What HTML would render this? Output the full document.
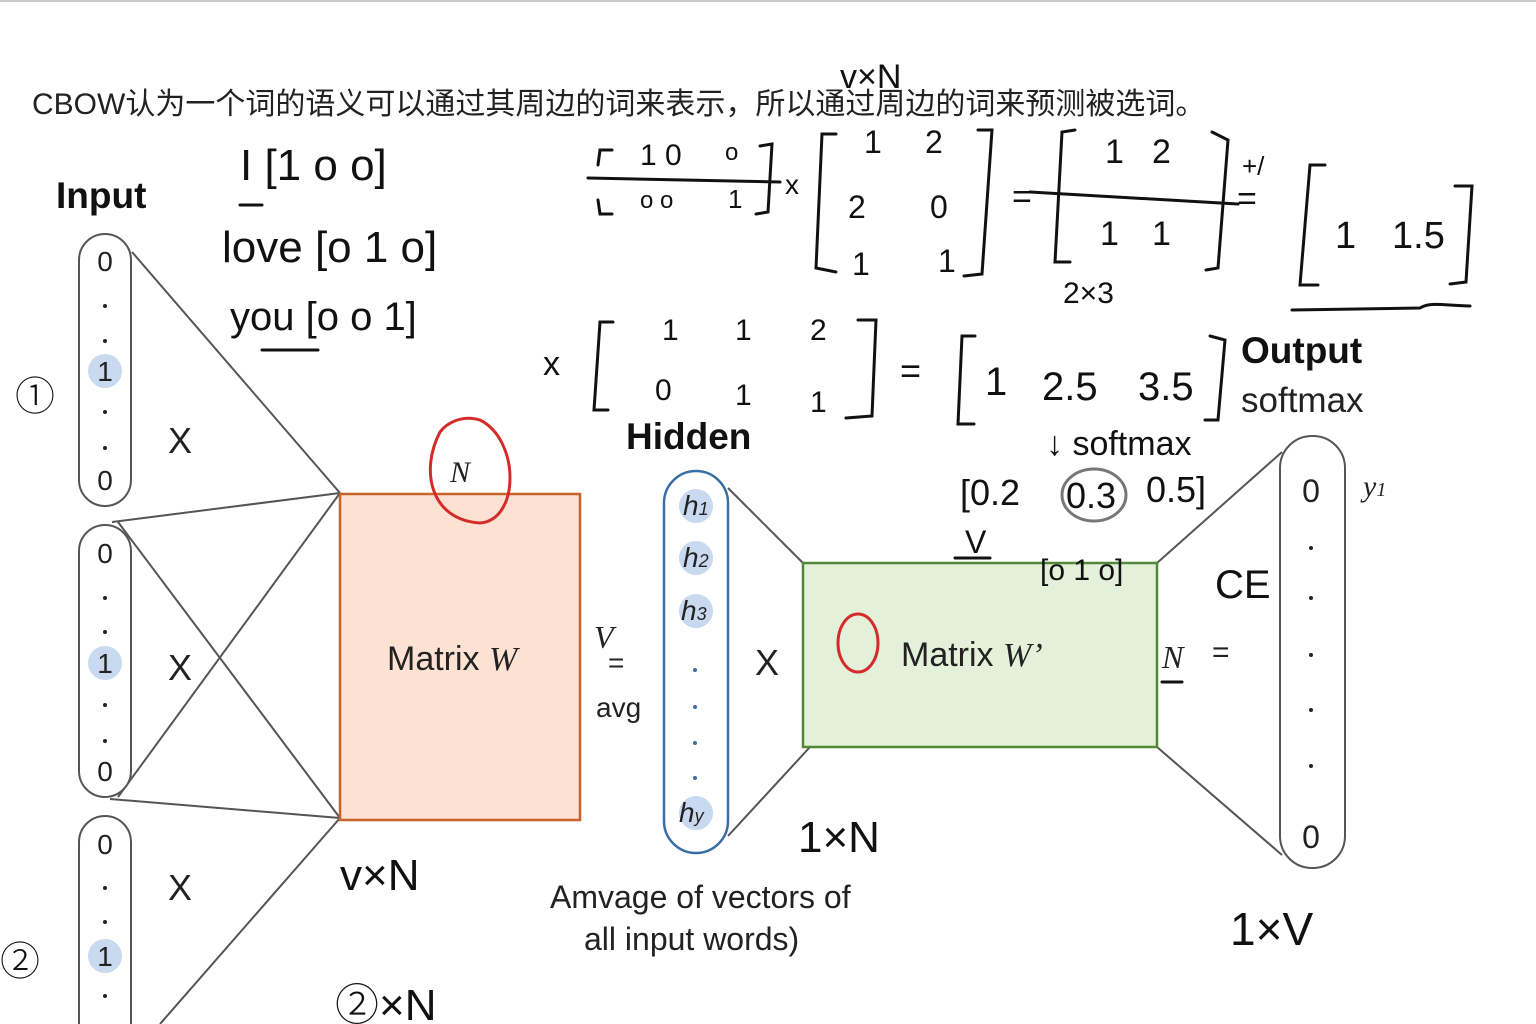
<!DOCTYPE html>
<html><head><meta charset="utf-8"><style>
html,body{margin:0;padding:0;background:#fff;width:1536px;height:1024px;overflow:hidden}
svg{display:block}
svg text{font-family:"Liberation Sans","Noto Sans CJK SC",sans-serif}
.it{font-family:"Liberation Serif",serif;font-style:italic}
</style></head><body>
<svg width="1536" height="1024" viewBox="0 0 1536 1024" xmlns="http://www.w3.org/2000/svg">
<line x1="0" y1="1" x2="1536" y2="1" stroke="#ccc" stroke-width="2"/>
<text x="32" y="114" font-size="30" fill="#222">CBOW认为一个词的语义可以通过其周边的词来表示，所以通过周边的词来预测被选词。</text>
<text x="56" y="208" font-size="37" font-weight="bold" fill="#111">Input</text>

<g stroke="#555" stroke-width="2" fill="none">
<line x1="132" y1="252" x2="340" y2="493"/>
<line x1="112" y1="522" x2="340" y2="493"/>
<line x1="118" y1="522" x2="340" y2="818"/>
<line x1="118" y1="797" x2="340" y2="493"/>
<line x1="110" y1="799" x2="340" y2="818"/>
<line x1="160" y1="1024" x2="340" y2="818"/>
<line x1="728" y1="488" x2="803" y2="563"/>
<line x1="728" y1="836" x2="810" y2="747"/>
<line x1="1157" y1="563" x2="1282" y2="452"/>
<line x1="1157" y1="747" x2="1282" y2="855"/>
</g>

<g fill="#fff" stroke="#555" stroke-width="2">
<rect x="79" y="234" width="52" height="272" rx="26"/>
<rect x="79" y="525" width="52" height="272" rx="26"/>
<path d="M79 1024 L79 842 A26 26 0 0 1 131 842 L131 1024"/>
</g>
<g fill="#c9d9f0"><circle cx="105" cy="371" r="17"/><circle cx="105" cy="663" r="17"/><circle cx="105" cy="956" r="17"/></g>
<g font-size="28" text-anchor="middle" fill="#222">
<text x="105" y="271">0</text><text x="105" y="381">1</text><text x="105" y="490">0</text>
<text x="105" y="563">0</text><text x="105" y="673">1</text><text x="105" y="781">0</text>
<text x="105" y="854">0</text><text x="105" y="966">1</text>
</g>
<g fill="#222">
<circle cx="105" cy="306" r="2"/><circle cx="105" cy="341" r="2"/><circle cx="105" cy="412" r="2"/><circle cx="105" cy="448" r="2"/>
<circle cx="105" cy="598" r="2"/><circle cx="105" cy="632" r="2"/><circle cx="105" cy="705" r="2"/><circle cx="105" cy="741" r="2"/>
<circle cx="105" cy="888" r="2"/><circle cx="105" cy="922" r="2"/><circle cx="105" cy="996" r="2"/>
</g>
<g font-size="36" fill="#222" text-anchor="middle"><text x="180" y="453">X</text><text x="180" y="680">X</text><text x="180" y="900">X</text></g>

<rect x="340" y="494" width="240" height="326" fill="#fde1d2" stroke="#c8632b" stroke-width="2.5"/>
<text x="387" y="670" font-size="34" fill="#222">Matrix <tspan class="it">W</tspan></text>
<text x="450" y="482" font-size="30" class="it" fill="#222">N</text>
<path d="M440 432 C420 470 430 520 480 523 C520 520 520 440 480 420 C460 414 445 425 440 432" fill="none" stroke="#d42b2b" stroke-width="3"/>

<text x="594" y="648" font-size="32" class="it" fill="#222">V</text>
<text x="608" y="672" font-size="28" fill="#222">=</text>
<text x="596" y="717" font-size="28" fill="#222">avg</text>

<text x="626" y="449" font-size="37" font-weight="bold" fill="#111">Hidden</text>
<rect x="664" y="471" width="64" height="382" rx="32" fill="#fff" stroke="#3a6ea5" stroke-width="2.5"/>
<g fill="#c9d9f0"><circle cx="696" cy="506" r="17"/><circle cx="696" cy="558" r="17"/><circle cx="696" cy="611" r="17"/><circle cx="696" cy="813" r="17"/></g>
<g font-size="28" class="it" fill="#222">
<text x="683" y="515">h<tspan font-size="18">1</tspan></text>
<text x="683" y="567">h<tspan font-size="18">2</tspan></text>
<text x="681" y="620">h<tspan font-size="18">3</tspan></text>
<text x="679" y="822">h<tspan font-size="18">y</tspan></text>
</g>
<g fill="#3a6ea5"><circle cx="695" cy="670" r="2"/><circle cx="695" cy="707" r="2"/><circle cx="695" cy="743" r="2"/><circle cx="695" cy="778" r="2"/></g>
<text x="767" y="675" font-size="36" fill="#222" text-anchor="middle">X</text>
<text x="550" y="908" font-size="32" fill="#222">Amvage of vectors of</text>
<text x="584" y="950" font-size="32" fill="#222">all input words)</text>

<rect x="803" y="563" width="354" height="184" fill="#e3f0da" stroke="#55873a" stroke-width="2.5"/>
<text x="901" y="666" font-size="34" fill="#222">Matrix <tspan class="it">W’</tspan></text>
<ellipse cx="858" cy="643" rx="20" ry="29" fill="none" stroke="#d42b2b" stroke-width="3"/>
<text x="1162" y="668" font-size="32" class="it" fill="#222">N</text>
<text x="1212" y="662" font-size="30" fill="#222">=</text>

<text x="1241" y="363" font-size="37" font-weight="bold" fill="#111">Output</text>
<text x="1241" y="412" font-size="35" fill="#222">softmax</text>
<rect x="1280" y="436" width="65" height="432" rx="32" fill="#fff" stroke="#555" stroke-width="2"/>
<text x="1311" y="502" font-size="32" fill="#222" text-anchor="middle">0</text>
<text x="1311" y="848" font-size="32" fill="#222" text-anchor="middle">0</text>
<g fill="#222"><circle cx="1311" cy="548" r="2"/><circle cx="1311" cy="598" r="2"/><circle cx="1311" cy="655" r="2"/><circle cx="1311" cy="710" r="2"/><circle cx="1311" cy="766" r="2"/></g>
<text x="1363" y="496" font-size="30" class="it" fill="#222">y<tspan font-size="20">1</tspan></text>

<g font-family="'DejaVu Sans',sans-serif" fill="#111" font-weight="300">
<text x="240" y="180" font-size="44">I [1 o o]</text>
<text x="222" y="262" font-size="44">love [o 1 o]</text>
<text x="230" y="330" font-size="40">you [o o 1]</text>
<text x="840" y="88" font-size="34">v×N</text>
<text x="640" y="165" font-size="30">1 0</text><text x="725" y="160" font-size="24">o</text>
<text x="640" y="208" font-size="24">o o</text><text x="728" y="208" font-size="26">1</text>
<text x="785" y="194" font-size="28">x</text>
<text x="864" y="153" font-size="32">1</text><text x="925" y="153" font-size="32">2</text>
<text x="848" y="218" font-size="32">2</text><text x="930" y="218" font-size="32">0</text>
<text x="852" y="275" font-size="32">1</text><text x="938" y="272" font-size="32">1</text>
<text x="1012" y="208" font-size="34">=</text>
<text x="1105" y="163" font-size="34">1</text><text x="1152" y="163" font-size="34">2</text>
<text x="1100" y="245" font-size="34">1</text><text x="1152" y="245" font-size="34">1</text>
<text x="1063" y="303" font-size="30">2×3</text>
<text x="1237" y="210" font-size="34">=</text>
<text x="1242" y="175" font-size="26">+/</text>
<text x="1335" y="248" font-size="38">1</text><text x="1392" y="248" font-size="38">1.5</text>
<text x="543" y="375" font-size="34">x</text>
<text x="662" y="340" font-size="30">1</text><text x="735" y="340" font-size="30">1</text><text x="810" y="340" font-size="30">2</text>
<text x="655" y="400" font-size="30">0</text><text x="735" y="405" font-size="30">1</text><text x="810" y="412" font-size="30">1</text>
<text x="900" y="383" font-size="36">=</text>
<text x="985" y="395" font-size="40">1</text><text x="1042" y="400" font-size="40">2.5</text><text x="1138" y="400" font-size="40">3.5</text>
<text x="1046" y="455" font-size="34">↓ softmax</text>
<text x="960" y="505" font-size="36">[0.2</text><text x="1066" y="508" font-size="36">0.3</text><text x="1146" y="502" font-size="36">0.5]</text>
<text x="965" y="553" font-size="32">V</text>
<text x="1040" y="580" font-size="30">[o 1 o]</text>
<text x="1215" y="598" font-size="40">CE</text>
<text x="798" y="852" font-size="44">1×N</text>
<text x="340" y="890" font-size="44">v×N</text>
<text x="1230" y="945" font-size="46">1×V</text>
<text x="335" y="1020" font-size="44">②×N</text>
<text x="15" y="410" font-size="40">①</text>
<text x="0" y="975" font-size="40">②</text>
</g>
<g fill="none" stroke="#111" stroke-width="3" stroke-linecap="round">
<path d="M612 150 L600 150 L598 165 M598 200 L600 214 L612 214"/>
<path d="M760 146 L772 144 L768 212 L756 214"/>
<line x1="588" y1="178" x2="780" y2="182"/>
<path d="M836 134 L822 134 L816 268 L836 272 M978 130 L992 130 L982 274 L964 276"/>
<path d="M1075 130 L1062 132 L1055 262 L1070 262 M1212 132 L1228 140 L1218 268 L1206 270"/>
<line x1="1030" y1="192" x2="1238" y2="204"/>
<path d="M1325 165 L1310 165 L1300 285 L1318 285 M1455 186 L1472 186 L1466 282 L1450 284"/>
<path d="M1292 310 L1420 308 C1430 302 1440 305 1470 306"/>
<path d="M613 322 L600 322 L594 410 L608 410 M858 320 L876 320 L872 416 L846 418"/>
<path d="M975 336 L962 336 L958 424 L974 424 M1210 336 L1225 340 L1218 420 L1205 420"/>
<ellipse cx="1094" cy="495" rx="32" ry="26" stroke="#777"/>
<line x1="955" y1="558" x2="990" y2="558"/>
<line x1="1162" y1="682" x2="1182" y2="682"/>
<line x1="240" y1="205" x2="262" y2="205"/>
<line x1="262" y1="350" x2="318" y2="350"/>
</g>
</svg>
</body></html>
